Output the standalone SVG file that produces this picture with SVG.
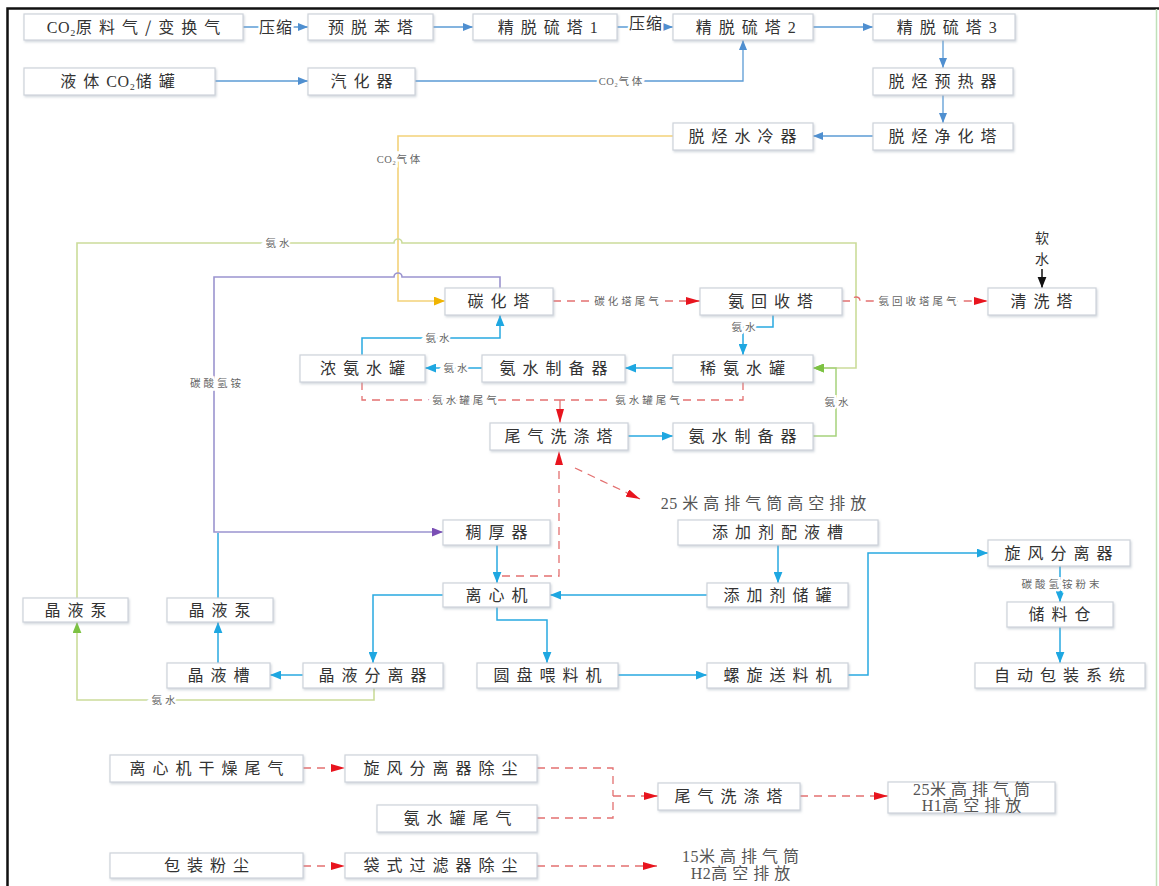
<svg xmlns="http://www.w3.org/2000/svg" width="1159" height="886" viewBox="0 0 1159 886">
<style>
  .box rect { fill:#ffffff; stroke:#cdd3da; stroke-width:1.2; filter:url(#sh); }
  .t { font-family:"Noto Sans CJK SC","Noto Sans",sans-serif; font-size:16px; letter-spacing:7px; fill:#333333; text-anchor:middle; }
  .s { font-family:"Liberation Serif","Noto Sans CJK SC",serif; font-size:16px; letter-spacing:5px; fill:#555555; text-anchor:middle; }
  .lb { font-family:"Noto Sans CJK SC","Noto Sans",sans-serif; font-size:10.5px; letter-spacing:3px; fill:#666666; text-anchor:middle; stroke:#ffffff; stroke-width:5px; paint-order:stroke; }
  .lbk { font-family:"Noto Sans CJK SC","Noto Sans",sans-serif; font-size:16px; letter-spacing:1px; fill:#333333; text-anchor:middle; stroke:#ffffff; stroke-width:5px; paint-order:stroke; }
  .lat { letter-spacing:0.5px; font-family:"Liberation Serif","Noto Sans CJK SC",serif; }
  .c { fill:none; }
  .blue { stroke:#5b9bd5; stroke-width:1.3; }
  .cyan { stroke:#29a9e1; stroke-width:1.5; }
  .yel { stroke:#f3d27a; stroke-width:1.6; }
  .grn { stroke:#cbdc9a; stroke-width:1.6; }
  .grn2 { stroke:#a6d27c; stroke-width:1.5; }
  .pur { stroke:#9b94cf; stroke-width:1.6; }
  .red { stroke:#e37070; stroke-width:1.3; stroke-dasharray:8 6; }
  .blk { stroke:#111111; stroke-width:1.5; }
</style>
<defs>
  <filter id="sh" x="-5%" y="-20%" width="110%" height="150%">
    <feDropShadow dx="1" dy="1.5" stdDeviation="1" flood-color="#9aa6b4" flood-opacity="0.45"/>
  </filter>
  <marker id="aBlue" viewBox="0 0 10 8" refX="10" refY="4" markerWidth="10" markerHeight="8" markerUnits="userSpaceOnUse" orient="auto"><path d="M0,0 L10,4 L0,8 z" fill="#4f8fd0"/></marker>
  <marker id="aCyan" viewBox="0 0 10 8" refX="10" refY="4" markerWidth="11" markerHeight="9" markerUnits="userSpaceOnUse" orient="auto"><path d="M0,0 L10,4 L0,8 z" fill="#1ea7e1"/></marker>
  <marker id="aYel" viewBox="0 0 10 8" refX="10" refY="4" markerWidth="11" markerHeight="9" markerUnits="userSpaceOnUse" orient="auto"><path d="M0,0 L10,4 L0,8 z" fill="#f0b400"/></marker>
  <marker id="aGrn" viewBox="0 0 10 8" refX="10" refY="4" markerWidth="11" markerHeight="9" markerUnits="userSpaceOnUse" orient="auto"><path d="M0,0 L10,4 L0,8 z" fill="#7cc242"/></marker>
  <marker id="aPur" viewBox="0 0 10 8" refX="10" refY="4" markerWidth="11" markerHeight="9" markerUnits="userSpaceOnUse" orient="auto"><path d="M0,0 L10,4 L0,8 z" fill="#7a4fb5"/></marker>
  <marker id="aRed" viewBox="0 0 14 8" refX="14" refY="4" markerWidth="14" markerHeight="8" markerUnits="userSpaceOnUse" orient="auto"><path d="M0,0 L14,4 L0,8 z" fill="#e8141e"/></marker>
  <marker id="aBlk" viewBox="0 0 10 8" refX="10" refY="4" markerWidth="11" markerHeight="10" markerUnits="userSpaceOnUse" orient="auto"><path d="M0,0 L10,4 L0,8 z" fill="#111111"/></marker>
</defs>

<rect x="0" y="0" width="1159" height="886" fill="#ffffff"/>
<!-- frame -->
<g id="frame">
  <path d="M7.5,886 V8.5 H1159" fill="none" stroke="#111111" stroke-width="2.5"/>
  <path d="M1156.5,9 V886" fill="none" stroke="#bfe0b8" stroke-width="1.5"/>
</g>

<!-- connectors -->
<g id="connectors">
  <!-- raw gas line -->
  <path class="c blue" d="M243,27 H308" marker-end="url(#aBlue)"/>
  <text class="lbk" x="276" y="33">压缩</text>
  <path class="c blue" d="M433,27 H473" marker-end="url(#aBlue)"/>
  <path class="c blue" d="M617,27 H673" marker-end="url(#aBlue)"/>
  <text class="lbk" x="646" y="29">压缩</text>
  <path class="c blue" d="M813,27 H873" marker-end="url(#aBlue)"/>
  <path class="c blue" d="M215,81 H308" marker-end="url(#aBlue)"/>
  <path class="c blue" d="M415,81 H743 V40" marker-end="url(#aBlue)"/>
  <text class="lb" x="622" y="85"><tspan class="lat">CO₂</tspan>气体</text>
  <path class="c blue" d="M943,40 V68" marker-end="url(#aBlue)"/>
  <path class="c blue" d="M943,95 V123" marker-end="url(#aBlue)"/>
  <path class="c blue" d="M873,136 H813" marker-end="url(#aBlue)"/>

  <!-- CO2 to carbonation tower -->
  <path class="c yel" d="M673,136 H398 V301 H445" marker-end="url(#aYel)"/>
  <text class="lb" x="400" y="163"><tspan class="lat">CO₂</tspan>气体</text>

  <!-- ammonia water return (long green) -->
  <path class="c grn" d="M77,598 V243 H394 a4,4 0 0 1 8,0 H856 V368 H813" marker-end="url(#aGrn)"/>
  <text class="lb" x="279" y="247">氨水</text>
  <path class="c grn2" d="M813,436 H836 V368 H813" marker-end="url(#aGrn)"/>
  <text class="lb" x="838" y="406">氨水</text>
  <path class="c grn" d="M374,688 V700 H77 V622" marker-end="url(#aGrn)"/>
  <text class="lb" x="165" y="704">氨水</text>

  <!-- ammonium bicarbonate to thickener -->
  <path class="c pur" d="M500,288 V277 H402 a4,4 0 0 0 -8,0 H214 V532 H443" marker-end="url(#aPur)"/>
  <text class="lb" x="217" y="387">碳酸氢铵</text>
  <path class="c cyan" d="M218,598 V533"/>

  <!-- tail gas lines -->
  <path class="c red" d="M553,301 H700" marker-end="url(#aRed)"/>
  <text class="lb" x="628" y="305">碳化塔尾气</text>
  <path class="c red" d="M842,301 H852 a4,4 0 0 1 8,0 H988" marker-end="url(#aRed)"/>
  <text class="lb" x="919" y="305">氨回收塔尾气</text>
  <path class="c blk" d="M1042,269 V288" marker-end="url(#aBlk)"/>

  <!-- ammonia water circuit -->
  <path class="c cyan" d="M773,315 V327 H743 V355" marker-end="url(#aCyan)"/>
  <text class="lb" x="745" y="331">氨水</text>
  <path class="c cyan" d="M673,368 H625" marker-end="url(#aCyan)"/>
  <path class="c cyan" d="M482,368 H425" marker-end="url(#aCyan)"/>
  <text class="lb" x="457" y="372">氨水</text>
  <path class="c cyan" d="M362,355 V338 H500 V315" marker-end="url(#aCyan)"/>
  <text class="lb" x="439" y="342">氨水</text>
  <path class="c cyan" d="M628,436 H673" marker-end="url(#aCyan)"/>

  <path class="c red" d="M362,382 V400 H560"/>
  <text class="lb" x="466" y="404">氨水罐尾气</text>
  <path class="c red" d="M743,382 V400 H560"/>
  <text class="lb" x="649" y="404">氨水罐尾气</text>
  <path class="c red" d="M560,400 V423" style="stroke-dasharray:none" marker-end="url(#aRed)"/>

  <path class="c red" d="M502,576 H559 V451" marker-end="url(#aRed)"/>
  <path class="c red" d="M575,468 L640,499" marker-end="url(#aRed)"/>

  <!-- crystallisation / solids -->
  <path class="c cyan" d="M497,545 V583" marker-end="url(#aCyan)"/>
  <path class="c cyan" d="M778,545 V583" marker-end="url(#aCyan)"/>
  <path class="c cyan" d="M707,595 H550" marker-end="url(#aCyan)"/>
  <path class="c cyan" d="M443,595 H373 V663" marker-end="url(#aCyan)"/>
  <path class="c cyan" d="M497,607 V620 H547 V663" marker-end="url(#aCyan)"/>
  <path class="c cyan" d="M303,675 H270" marker-end="url(#aCyan)"/>
  <path class="c cyan" d="M218,663 V622" marker-end="url(#aCyan)"/>
  <path class="c cyan" d="M618,675 H707" marker-end="url(#aCyan)"/>
  <path class="c cyan" d="M848,675 H868 V553 H988" marker-end="url(#aCyan)"/>
  <path class="c cyan" d="M1060,566 V602" marker-end="url(#aCyan)"/>
  <text class="lb" x="1062" y="588">碳酸氢铵粉末</text>
  <path class="c cyan" d="M1060,627 V663" marker-end="url(#aCyan)"/>

  <!-- exhaust summary -->
  <path class="c red" d="M303,768 H345" marker-end="url(#aRed)"/>
  <path class="c red" d="M537,768 H613 V796"/>
  <path class="c red" d="M537,818 H613 V796"/>
  <path class="c red" d="M613,796 H658" marker-end="url(#aRed)"/>
  <path class="c red" d="M800,796 H888" marker-end="url(#aRed)"/>
  <path class="c red" d="M303,866 H345" marker-end="url(#aRed)"/>
  <path class="c red" d="M537,866 H657" marker-end="url(#aRed)"/>
</g>

<!-- nodes -->
<g id="n-raw" class="box"><rect x="24" y="14" width="219" height="26"/><text class="t" x="137" y="33"><tspan class="lat">CO₂</tspan>原料气/变换气</text></g>
<g id="n-prebenzene" class="box"><rect x="308" y="14" width="125" height="26"/><text class="t" x="374" y="33">预脱苯塔</text></g>
<g id="n-desulf1" class="box"><rect x="473" y="14" width="144" height="26"/><text class="t" x="548" y="33">精脱硫塔<tspan class="lat">1</tspan></text></g>
<g id="n-desulf2" class="box"><rect x="673" y="14" width="140" height="26"/><text class="t" x="746" y="33">精脱硫塔<tspan class="lat">2</tspan></text></g>
<g id="n-desulf3" class="box"><rect x="873" y="14" width="142" height="26"/><text class="t" x="947" y="33">精脱硫塔<tspan class="lat">3</tspan></text></g>
<g id="n-liqco2" class="box"><rect x="24" y="68" width="191" height="27"/><text class="t" x="121" y="87">液体<tspan class="lat">CO₂</tspan>储罐</text></g>
<g id="n-vaporizer" class="box"><rect x="308" y="68" width="107" height="27"/><text class="t" x="365" y="87">汽化器</text></g>
<g id="n-preheater" class="box"><rect x="873" y="68" width="140" height="27"/><text class="t" x="946" y="87">脱烃预热器</text></g>
<g id="n-purifier" class="box"><rect x="873" y="123" width="140" height="27"/><text class="t" x="946" y="142">脱烃净化塔</text></g>
<g id="n-cooler" class="box"><rect x="673" y="123" width="140" height="27"/><text class="t" x="746" y="142">脱烃水冷器</text></g>

<g id="n-carbonation" class="box"><rect x="445" y="288" width="108" height="27"/><text class="t" x="502" y="307">碳化塔</text></g>
<g id="n-nh3recovery" class="box"><rect x="700" y="288" width="142" height="27"/><text class="t" x="774" y="307">氨回收塔</text></g>
<g id="n-washer" class="box"><rect x="988" y="288" width="108" height="27"/><text class="t" x="1045" y="307">清洗塔</text></g>
<g id="n-softwater"><text class="t" style="letter-spacing:0;font-size:14px"><tspan x="1042" y="243">软</tspan><tspan x="1042" y="264">水</tspan></text></g>

<g id="n-concnh3" class="box"><rect x="300" y="355" width="125" height="27"/><text class="t" x="366" y="374">浓氨水罐</text></g>
<g id="n-nh3prep1" class="box"><rect x="482" y="355" width="143" height="27"/><text class="t" x="557" y="374">氨水制备器</text></g>
<g id="n-dilnh3" class="box"><rect x="673" y="355" width="140" height="27"/><text class="t" x="746" y="374">稀氨水罐</text></g>
<g id="n-tailscrub" class="box"><rect x="490" y="423" width="138" height="27"/><text class="t" x="562" y="442">尾气洗涤塔</text></g>
<g id="n-nh3prep2" class="box"><rect x="673" y="423" width="140" height="27"/><text class="t" x="746" y="442">氨水制备器</text></g>
<g id="n-stack25a"><text class="s" x="766" y="509"><tspan class="lat">25 </tspan>米高排气筒高空排放</text></g>

<g id="n-thickener" class="box"><rect x="443" y="520" width="107" height="25"/><text class="t" x="500" y="538">稠厚器</text></g>
<g id="n-additivemix" class="box"><rect x="678" y="520" width="200" height="25"/><text class="t" x="781" y="538">添加剂配液槽</text></g>
<g id="n-centrifuge" class="box"><rect x="443" y="583" width="107" height="24"/><text class="t" x="500" y="601">离心机</text></g>
<g id="n-additivetank" class="box"><rect x="707" y="583" width="141" height="24"/><text class="t" x="781" y="601">添加剂储罐</text></g>
<g id="n-cyclone" class="box"><rect x="988" y="540" width="142" height="26"/><text class="t" x="1062" y="559">旋风分离器</text></g>
<g id="n-silo" class="box"><rect x="1007" y="602" width="106" height="25"/><text class="t" x="1063" y="620">储料仓</text></g>
<g id="n-pump1" class="box"><rect x="23" y="598" width="105" height="24"/><text class="t" x="79" y="616">晶液泵</text></g>
<g id="n-pump2" class="box"><rect x="167" y="598" width="106" height="24"/><text class="t" x="223" y="616">晶液泵</text></g>
<g id="n-crysttank" class="box"><rect x="167" y="663" width="103" height="25"/><text class="t" x="222" y="681">晶液槽</text></g>
<g id="n-cryst-sep" class="box"><rect x="303" y="663" width="140" height="25"/><text class="t" x="376" y="681">晶液分离器</text></g>
<g id="n-feeder" class="box"><rect x="477" y="663" width="141" height="25"/><text class="t" x="551" y="681">圆盘喂料机</text></g>
<g id="n-screw" class="box"><rect x="707" y="663" width="141" height="25"/><text class="t" x="781" y="681">螺旋送料机</text></g>
<g id="n-packing" class="box"><rect x="975" y="663" width="170" height="25"/><text class="t" x="1063" y="681">自动包装系统</text></g>

<g id="n-dryexhaust" class="box"><rect x="110" y="755" width="193" height="27"/><text class="t" x="210" y="774">离心机干燥尾气</text></g>
<g id="n-cyclonedust" class="box"><rect x="345" y="755" width="192" height="27"/><text class="t" x="444" y="774">旋风分离器除尘</text></g>
<g id="n-tankexhaust" class="box"><rect x="377" y="805" width="160" height="27"/><text class="t" x="461" y="824">氨水罐尾气</text></g>
<g id="n-tailscrub2" class="box"><rect x="658" y="783" width="142" height="27"/><text class="t" x="732" y="802">尾气洗涤塔</text></g>
<g id="n-stackH1" class="box"><rect x="888" y="782" width="167" height="31"/><text class="s" x="974" y="795"><tspan class="lat">25</tspan>米高排气筒</text><text class="s" x="974" y="811"><tspan class="lat">H1</tspan>高空排放</text></g>
<g id="n-packdust" class="box"><rect x="110" y="853" width="193" height="25"/><text class="t" x="210" y="871">包装粉尘</text></g>
<g id="n-bagfilter" class="box"><rect x="345" y="853" width="192" height="25"/><text class="t" x="444" y="871">袋式过滤器除尘</text></g>
<g id="n-stackH2"><text class="s" x="743" y="862"><tspan class="lat">15</tspan>米高排气筒</text><text class="s" x="743" y="879"><tspan class="lat">H2</tspan>高空排放</text></g>
</svg>
